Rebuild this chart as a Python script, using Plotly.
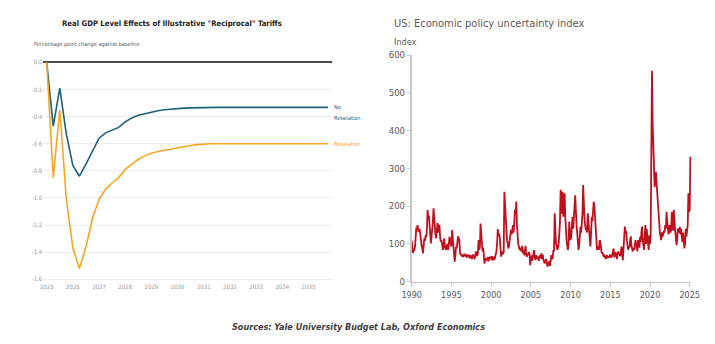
import plotly.graph_objects as go

# ---------------- Left chart data (quarterly, 2025Q1 .. 2035Q4) ----------------
quarters = [2025 + i * 0.25 for i in range(44)]
no_retaliation = [
    0.0, -0.47, -0.19, -0.53, -0.76, -0.84, -0.75, -0.65,
    -0.56, -0.52, -0.50, -0.48, -0.44, -0.41, -0.39, -0.378,
    -0.366, -0.357, -0.350, -0.345, -0.341, -0.338, -0.336, -0.334,
    -0.332, -0.332, -0.332, -0.332, -0.332, -0.332, -0.332, -0.332,
    -0.332, -0.332, -0.332, -0.332, -0.332, -0.332, -0.332, -0.332,
    -0.332, -0.332, -0.332, -0.332,
]
retaliation = [
    0.0, -0.85, -0.35, -1.01, -1.37, -1.52, -1.36, -1.15,
    -1.01, -0.935, -0.89, -0.85, -0.79, -0.75, -0.715, -0.69,
    -0.67, -0.658, -0.648, -0.638, -0.628, -0.620, -0.613, -0.607,
    -0.602, -0.600, -0.600, -0.600, -0.600, -0.600, -0.600, -0.600,
    -0.600, -0.600, -0.600, -0.600, -0.600, -0.600, -0.600, -0.600,
    -0.600, -0.600, -0.600, -0.600,
]
left_xticks = list(range(2025, 2036))
left_yticks = [0.0, -0.2, -0.4, -0.6, -0.8, -1.0, -1.2, -1.4, -1.6]
left_ytext = ["0.0", "-0.2", "-0.4", "-0.6", "-0.8", "-1.0", "-1.2", "-1.4", "-1.6"]

# ---------------- Right chart data (monthly EPU index, Jan 1990 .. Feb 2025) ----------------
epu_1990s = [
    108, 80, 76, 85, 84, 92, 138, 144, 140, 150, 132, 137,   # 1990
    140, 125, 105, 95, 88, 75, 95, 115, 108, 123, 118, 140,  # 1991
    190, 168, 175, 140, 115, 101, 120, 137, 160, 194, 172, 130,  # 1992
    124, 115, 135, 156, 130, 150, 148, 115, 106, 110, 95, 84,    # 1993
    88, 115, 98, 88, 84, 95, 100, 84, 95, 119, 110, 93,      # 1994
    93, 137, 110, 84, 78, 53, 70, 93, 88, 105, 120, 115,     # 1995
    110, 75, 72, 70, 68, 72, 66, 70, 68, 74, 66, 64,         # 1996
    68, 66, 72, 64, 62, 70, 66, 60, 68, 72, 64, 62,          # 1997
    66, 80, 72, 68, 75, 110, 85, 90, 154, 130, 93, 80,       # 1998
    90, 70, 48, 62, 55, 58, 62, 65, 54, 58, 66, 62,          # 1999
]
epu_2000s = [
    60, 68, 56, 62, 66, 58, 64, 70, 80, 100, 139, 128,       # 2000
    125, 118, 90, 66, 80, 72, 75, 79, 238, 200, 172, 130,    # 2001
    110, 100, 88, 95, 110, 120, 137, 125, 140, 150, 130, 165,  # 2002
    190, 180, 212, 150, 110, 100, 93, 84, 90, 85, 80, 95,    # 2003
    75, 85, 70, 80, 95, 72, 66, 75, 70, 78, 75, 44,          # 2004
    60, 70, 55, 65, 75, 84, 62, 58, 70, 65, 60, 66,          # 2005
    55, 70, 62, 68, 75, 60, 72, 58, 50, 48, 55, 60,          # 2006
    52, 40, 45, 48, 55, 42, 58, 70, 60, 62, 84, 80,          # 2007
    181, 130, 101, 95, 84, 90, 100, 128, 160, 243, 210, 180,  # 2008
    238, 172, 200, 234, 170, 128, 110, 95, 84, 100, 159, 130,  # 2009
]
epu_2010s = [
    110, 120, 150, 172, 140, 160, 200, 229, 172, 150, 130, 100,  # 2010
    84, 95, 120, 146, 130, 150, 180, 256, 190, 170, 150, 137,    # 2011
    140, 130, 181, 150, 120, 100, 93, 130, 172, 160, 200, 212,   # 2012
    200, 163, 140, 100, 84, 93, 90, 85, 110, 106, 90, 75,        # 2013
    78, 70, 66, 72, 62, 60, 65, 70, 62, 68, 64, 70,              # 2014
    72, 66, 64, 70, 80, 88, 65, 72, 78, 70, 60, 75,              # 2015
    80, 75, 70, 68, 80, 93, 70, 57, 88, 110, 146, 128,           # 2016
    135, 110, 100, 84, 95, 90, 110, 120, 95, 84, 80, 90,         # 2017
    85, 90, 110, 100, 95, 80, 110, 100, 90, 119, 105, 130,       # 2018
    146, 110, 95, 84, 120, 150, 100, 140, 120, 95, 84, 123,      # 2019
]
epu_2020s = [
    100, 120, 350, 558, 420, 357, 300, 251, 274, 290, 260, 230,  # 2020
    198, 176, 150, 128, 120, 110, 131, 120, 125, 135, 130, 150,  # 2021
    140, 185, 160, 137, 125, 140, 150, 130, 140, 185, 150, 135,  # 2022
    190, 146, 135, 120, 97, 110, 141, 130, 140, 145, 125, 140,   # 2023
    120, 105, 130, 95, 88, 100, 140, 120, 150, 150, 234, 185,    # 2024
    190, 331,                                                    # 2025
]
epu = epu_1990s + epu_2000s + epu_2010s + epu_2020s
epu_x = [1990 + i / 12 for i in range(len(epu))]
right_xticks = [1990, 1995, 2000, 2005, 2010, 2015, 2020, 2025]
right_yticks = [0, 100, 200, 300, 400, 500, 600]

NARROW = "DejaVu Sans Condensed, sans-serif"
BLUE = "#1f6079"
ORANGE = "#f7a525"
RED = "#c0101e"

W, H = 715, 344


def px_x(p):
    return p / W


def px_y(p):
    return 1 - p / H


fig = go.Figure()
fig.add_trace(go.Scatter(x=quarters, y=no_retaliation, mode="lines",
                         line=dict(color=BLUE, width=1.6), xaxis="x", yaxis="y",
                         showlegend=False, hoverinfo="skip"))
fig.add_trace(go.Scatter(x=quarters, y=retaliation, mode="lines",
                         line=dict(color=ORANGE, width=1.6), xaxis="x", yaxis="y",
                         showlegend=False, hoverinfo="skip"))
fig.add_trace(go.Scatter(x=epu_x, y=epu, mode="lines",
                         line=dict(color=RED, width=1.8), xaxis="x2", yaxis="y2",
                         showlegend=False, hoverinfo="skip"))

fig.update_layout(
    template="none",
    width=W, height=H,
    margin=dict(l=0, r=0, t=0, b=0, autoexpand=False),
    paper_bgcolor="white", plot_bgcolor="white",
    font=dict(family=NARROW, color="#595959"),
    xaxis=dict(
        domain=[px_x(43.3), px_x(332)], range=[2024.87, 2035.9],
        tickvals=left_xticks, ticktext=[str(t) for t in left_xticks],
        showgrid=False, zeroline=False, showline=False, ticks="",
        tickfont=dict(family=NARROW, size=6, color="#9a9a9a"),
        anchor="y", automargin=False,
    ),
    yaxis=dict(
        domain=[px_y(282), px_y(59.6)], range=[-1.62, 0.02],
        tickvals=left_yticks, ticktext=left_ytext,
        showgrid=True, gridcolor="#ececec", gridwidth=1,
        zeroline=True, zerolinecolor="#4d4d4d", zerolinewidth=2,
        showline=False, ticks="",
        tickfont=dict(family=NARROW, size=6, color="#9a9a9a"),
        anchor="x", automargin=False,
    ),
    xaxis2=dict(
        domain=[px_x(411.7), px_x(691.3)], range=[1990, 2025.2],
        tickvals=right_xticks, ticktext=[str(t) for t in right_xticks],
        showgrid=False, zeroline=False,
        showline=True, linecolor="#c8c8c8", linewidth=1,
        ticks="outside", ticklen=4, tickcolor="#c8c8c8",
        tickfont=dict(family=NARROW, size=9, color="#595959"),
        anchor="y2", automargin=False,
    ),
    yaxis2=dict(
        domain=[px_y(281.7), px_y(55)], range=[0, 600],
        tickvals=right_yticks, ticktext=[str(t) for t in right_yticks],
        showgrid=False, zeroline=False,
        showline=True, linecolor="#c8c8c8", linewidth=1.5,
        ticks="outside", ticklen=3, tickcolor="#c8c8c8",
        tickfont=dict(family=NARROW, size=9.5, color="#595959"),
        anchor="x2", automargin=False,
    ),
)

annotations = [
    dict(text="<b>Real GDP Level Effects of Illustrative \"Reciprocal\" Tariffs</b>",
         x=px_x(172), y=px_y(23), xref="paper", yref="paper",
         xanchor="center", yanchor="middle", showarrow=False,
         font=dict(family=NARROW, size=7.7, color="#222222")),
    dict(text="Percentage point change against baseline",
         x=px_x(31.7), y=px_y(44), xref="paper", yref="paper",
         xanchor="left", yanchor="middle", showarrow=False,
         font=dict(family=NARROW, size=5.6, color="#555555")),
    dict(text="No", x=2035.9, y=no_retaliation[-1], xref="x", yref="y",
         xanchor="left", yanchor="middle", showarrow=False, xshift=0,
         font=dict(family=NARROW, size=5.5, color=BLUE)),
    dict(text="Retaliation", x=2035.9, y=no_retaliation[-1] - 0.081, xref="x", yref="y",
         xanchor="left", yanchor="middle", showarrow=False, xshift=0,
         font=dict(family=NARROW, size=5.5, color=BLUE)),
    dict(text="Retaliation", x=2035.9, y=retaliation[-1], xref="x", yref="y",
         xanchor="left", yanchor="middle", showarrow=False, xshift=0,
         font=dict(family=NARROW, size=5.5, color=ORANGE)),
    dict(text="US: Economic policy uncertainty index",
         x=px_x(391.7), y=px_y(23.3), xref="paper", yref="paper",
         xanchor="left", yanchor="middle", showarrow=False,
         font=dict(family=NARROW, size=11, color="#595959")),
    dict(text="Index",
         x=px_x(391.7), y=px_y(42.3), xref="paper", yref="paper",
         xanchor="left", yanchor="middle", showarrow=False,
         font=dict(family=NARROW, size=9, color="#595959")),
    dict(text="<b><i>Sources: Yale University Budget Lab, Oxford Economics</i></b>",
         x=px_x(358), y=px_y(326.7), xref="paper", yref="paper",
         xanchor="center", yanchor="middle", showarrow=False,
         font=dict(family=NARROW, size=9, color="#404040")),
]
fig.update_layout(annotations=annotations)

fig.write_html("out.html")
